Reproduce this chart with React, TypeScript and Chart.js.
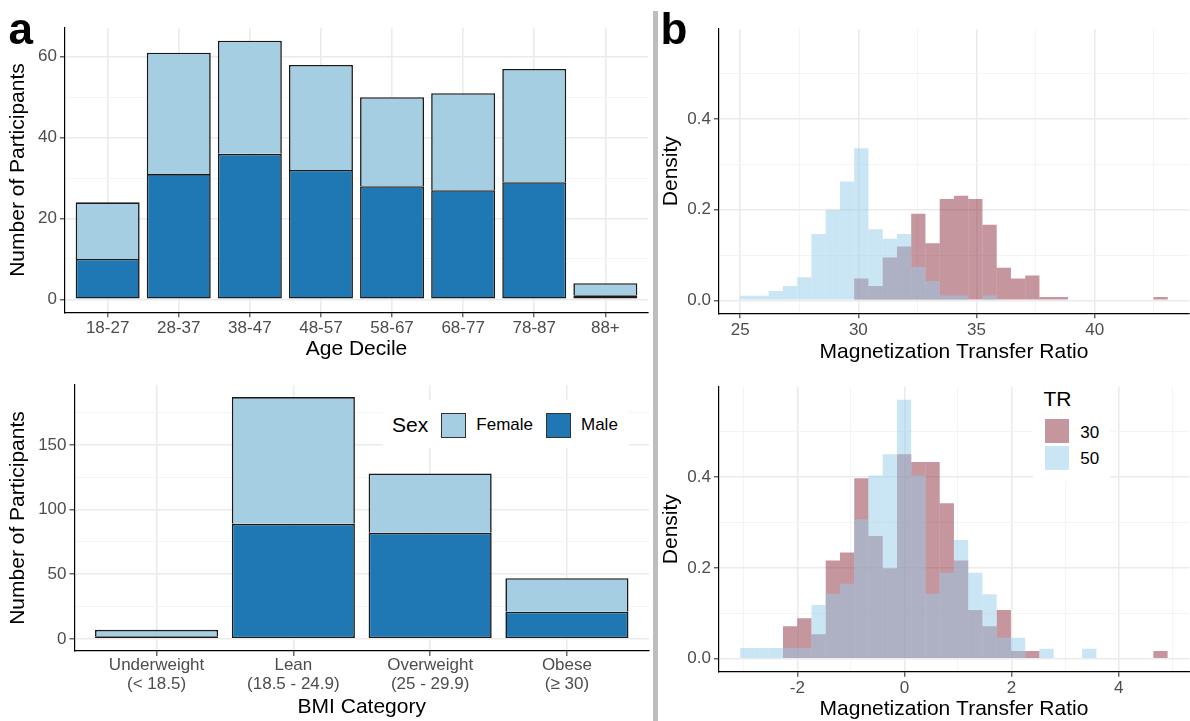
import React, { useEffect, useRef } from 'react';
import { Chart, registerables } from 'chart.js';

Chart.register(...registerables);

// ---------- Panel a (top): Age decile ----------
const AGE_DECILES = ['18-27', '28-37', '38-47', '48-57', '58-67', '68-77', '78-87', '88+'];
const AGE_FEMALE = [14, 30, 28, 26, 22, 24, 28, 3];
const AGE_MALE = [10, 31, 36, 32, 28, 27, 29, 1];
const AGE_Y_TICKS = [0, 20, 40, 60];
const AGE_Y_MINOR = [10, 30, 50];

// ---------- Panel a (bottom): BMI ----------
const BMI_CATEGORIES = [
  ['Underweight', '(< 18.5)'],
  ['Lean', '(18.5 - 24.9)'],
  ['Overweight', '(25 - 29.9)'],
  ['Obese', '(\u2265 30)'],
];
const BMI_FEMALE = [5, 98, 46, 26];
const BMI_MALE = [2, 89, 82, 21];
const BMI_Y_TICKS = [0, 50, 100, 150];
const BMI_Y_MINOR = [25, 75, 125, 175];

// ---------- Panel b (top): raw MTR histogram (density) ----------
const RAW_BIN_START = 25.0;
const RAW_BIN_WIDTH = 0.603;
const RAW_TR30 = [0, 0, 0, 0, 0, 0, 0, 0, 0.048, 0.0315, 0.0945, 0.119, 0.191, 0.126, 0.2235, 0.231, 0.2235, 0.167, 0.072, 0.048, 0.055, 0.0074, 0.0074, 0, 0, 0, 0, 0, 0, 0.0074];
const RAW_TR50 = [0.01, 0.01, 0.0205, 0.0315, 0.051, 0.1465, 0.2, 0.262, 0.3355, 0.157, 0.136, 0.1465, 0.0735, 0.0426, 0.011, 0.011, 0, 0.011, 0, 0, 0, 0, 0, 0, 0, 0, 0, 0, 0, 0];
const RAW_X_TICKS = [25, 30, 35, 40];
const RAW_X_MINOR = [27.5, 32.5, 37.5, 42.5];

// ---------- Panel b (bottom): standardized MTR histogram (density) ----------
const Z_BIN_START = -3.065;
const Z_BIN_WIDTH = 0.266;
const Z_TR30 = [0, 0, 0, 0.0713, 0.089, 0.054, 0.216, 0.234, 0.397, 0.27, 0.199, 0.45, 0.433, 0.433, 0.342, 0.216, 0.107, 0.0713, 0.107, 0.017, 0.017, 0, 0, 0, 0, 0, 0, 0, 0, 0.017];
const Z_TR50 = [0.0235, 0.0235, 0.0235, 0.0235, 0.0235, 0.118, 0.143, 0.165, 0.307, 0.403, 0.45, 0.57, 0.403, 0.143, 0.189, 0.261, 0.189, 0.142, 0.046, 0.046, 0, 0.022, 0, 0, 0.022, 0, 0, 0, 0, 0];
const Z_X_TICKS = [-2, 0, 2, 4];
const Z_X_MINOR = [-3, -1, 1, 3, 5];

const DENSITY_TICKS = [0, 0.2, 0.4];
const DENSITY_MINOR = [0.1, 0.3, 0.5];

const FAMILY = '"Liberation Sans", Arial, sans-serif';
const FEMALE_COLOR = '#A6CEE3';
const MALE_COLOR = '#1F78B4';
const BAR_BORDER = '#1A1A1A';
const TR30_COLOR = 'rgba(139,45,61,0.5)';
const TR50_COLOR = 'rgba(149,205,233,0.5)';

type AxisSpec = {
  min: number;
  max: number;
  major: number[];
  minor: number[];
  fmt: (v: number) => any;
  isX: boolean;
  size: number;
  title: string;
  titlePad: number;
  tickPad: number;
  lineHeight?: number;
  stacked?: boolean;
};

function axis(spec: AxisSpec) {
  const all = [...spec.major, ...spec.minor].sort((a, b) => a - b);
  const isMajor = (v: any) => spec.major.indexOf(v) >= 0;
  return {
    type: 'linear',
    min: spec.min,
    max: spec.max,
    bounds: 'data',
    offset: false,
    stacked: spec.stacked || false,
    afterBuildTicks: (s: any) => {
      s.ticks = all.map((v) => ({ value: v }));
    },
    afterFit: (s: any) => {
      if (spec.isX) s.height = spec.size;
      else s.width = spec.size;
    },
    ticks: {
      autoSkip: false,
      maxRotation: 0,
      minRotation: 0,
      padding: spec.tickPad,
      color: '#4D4D4D',
      font: { family: FAMILY, size: 17, lineHeight: spec.lineHeight || 1.2 },
      callback: (v: any) => (isMajor(v) ? spec.fmt(v) : ''),
    },
    grid: {
      display: true,
      offset: false,
      drawOnChartArea: true,
      drawTicks: true,
      tickLength: 5,
      color: (ctx: any) => (isMajor(ctx.tick && ctx.tick.value) ? '#EBEBEB' : '#F3F3F3'),
      lineWidth: (ctx: any) => (isMajor(ctx.tick && ctx.tick.value) ? 1.6 : 0.9),
      tickColor: (ctx: any) => (isMajor(ctx.tick && ctx.tick.value) ? '#333333' : 'rgba(0,0,0,0)'),
      tickWidth: 1.1,
    },
    border: { display: true, color: '#000000', width: 1.2 },
    title: {
      display: true,
      text: spec.title,
      color: '#000000',
      font: { family: FAMILY, size: 21, lineHeight: 1 },
      padding: spec.isX ? { top: 0, bottom: spec.titlePad } : { top: spec.titlePad, bottom: 0 },
    },
  };
}

function baseOptions(padTop: number, padRight: number, scales: any) {
  return {
    responsive: false,
    maintainAspectRatio: false,
    animation: false,
    devicePixelRatio: 1,
    events: [],
    layout: { padding: { top: padTop, right: padRight, left: 0, bottom: 0 } },
    plugins: { legend: { display: false }, tooltip: { enabled: false }, title: { display: false } },
    scales,
  };
}

function stackedBarConfig(cats: any[], male: number[], female: number[], yMin: number, yMax: number, yMajor: number[], yMinor: number[], o: any) {
  const idx = cats.map((_, i) => i + 1);
  return {
    type: 'bar',
    data: {
      datasets: [
        {
          label: 'Male',
          data: male.map((y, i) => ({ x: idx[i], y })),
          backgroundColor: MALE_COLOR,
          borderColor: BAR_BORDER,
          borderWidth: 1.6,
          borderSkipped: false,
          barPercentage: 0.9,
          categoryPercentage: 1,
          inflateAmount: 0,
        },
        {
          label: 'Female',
          data: female.map((y, i) => ({ x: idx[i], y })),
          backgroundColor: FEMALE_COLOR,
          borderColor: BAR_BORDER,
          borderWidth: 1.6,
          borderSkipped: 'start',
          barPercentage: 0.9,
          categoryPercentage: 1,
          inflateAmount: 0,
        },
      ],
    },
    options: baseOptions(o.padTop, o.padRight, {
      x: axis({
        min: 0.4, max: cats.length + 0.6, major: idx, minor: [], fmt: (v) => cats[v - 1],
        isX: true, size: o.xSize, title: o.xTitle, titlePad: o.xTitlePad, tickPad: o.xTickPad,
        lineHeight: o.xLineHeight, stacked: true,
      }),
      y: axis({
        min: yMin, max: yMax, major: yMajor, minor: yMinor, fmt: (v) => String(v),
        isX: false, size: o.ySize, title: 'Number of Participants', titlePad: o.yTitlePad, tickPad: 3, stacked: true,
      }),
    }),
  };
}

function histConfig(start: number, width: number, tr30: number[], tr50: number[], xMin: number, xMax: number, xMajor: number[], xMinor: number[], o: any) {
  const centers = tr30.map((_, i) => start + width * (i + 0.5));
  return {
    type: 'bar',
    data: {
      datasets: [
        {
          label: '50',
          data: tr50.map((y, i) => ({ x: centers[i], y })),
          backgroundColor: TR50_COLOR,
          borderWidth: 0,
          barPercentage: 1,
          categoryPercentage: 1,
          grouped: false,
          inflateAmount: 0,
          order: 1,
        },
        {
          label: '30',
          data: tr30.map((y, i) => ({ x: centers[i], y })),
          backgroundColor: TR30_COLOR,
          borderWidth: 0,
          barPercentage: 1,
          categoryPercentage: 1,
          grouped: false,
          inflateAmount: 0,
          order: 2,
        },
      ],
    },
    options: baseOptions(o.padTop, o.padRight, {
      x: axis({
        min: xMin, max: xMax, major: xMajor, minor: xMinor, fmt: (v) => String(v),
        isX: true, size: o.xSize, title: 'Magnetization Transfer Ratio', titlePad: o.xTitlePad, tickPad: o.xTickPad,
      }),
      y: axis({
        min: -0.0285, max: 0.5985, major: DENSITY_TICKS, minor: DENSITY_MINOR, fmt: (v) => v.toFixed(1),
        isX: false, size: o.ySize, title: 'Density', titlePad: o.yTitlePad, tickPad: 3,
      }),
    }),
  };
}

function ChartCanvas(props: { left: number; top: number; width: number; height: number; make: () => any }) {
  const ref = useRef<HTMLCanvasElement>(null);
  useEffect(() => {
    const chart = new Chart(ref.current as HTMLCanvasElement, props.make());
    return () => chart.destroy();
  }, []);
  return (
    <canvas
      ref={ref}
      width={props.width}
      height={props.height}
      style={{ position: 'absolute', left: props.left, top: props.top, width: props.width, height: props.height }}
    />
  );
}

const txt = (left: number, top: number, size: number, lh: number, text: string, extra: any = {}) => (
  <div
    style={{
      position: 'absolute', left, top, fontFamily: FAMILY, fontSize: size, lineHeight: lh + 'px',
      whiteSpace: 'nowrap', color: '#000', ...extra,
    }}
  >
    {text}
  </div>
);

const box = (left: number, top: number, w: number, h: number, style: any) => (
  <div style={{ position: 'absolute', left, top, width: w, height: h, boxSizing: 'border-box', ...style }} />
);

export default function App() {
  return (
    <div style={{ position: 'absolute', left: 0, top: 0, width: 1190, height: 721, background: '#fff', overflow: 'hidden' }}>
      <ChartCanvas
        left={0} top={0} width={652} height={365}
        make={() =>
          stackedBarConfig(AGE_DECILES, AGE_MALE, AGE_FEMALE, -3.2, 67.2, AGE_Y_TICKS, AGE_Y_MINOR, {
            padTop: 27.7, padRight: 4, xSize: 52.7, ySize: 65, xTitle: 'Age Decile', xTitlePad: 4.8, xTickPad: 1.3, yTitlePad: 7.5,
          })
        }
      />
      <ChartCanvas
        left={0} top={365} width={652} height={356}
        make={() =>
          stackedBarConfig(BMI_CATEGORIES, BMI_MALE, BMI_FEMALE, -9.35, 196.35, BMI_Y_TICKS, BMI_Y_MINOR, {
            padTop: 20, padRight: 3, xSize: 70, ySize: 74.5, xTitle: 'BMI Category', xTitlePad: 3.5, xTickPad: 0.4, yTitlePad: 7.5, xLineHeight: 1.1,
          })
        }
      />
      <ChartCanvas
        left={660} top={0} width={530} height={365}
        make={() =>
          histConfig(RAW_BIN_START, RAW_BIN_WIDTH, RAW_TR30, RAW_TR50, 24.1, 43.99, RAW_X_TICKS, RAW_X_MINOR, {
            padTop: 29, padRight: 1, xSize: 51.7, ySize: 58.9, xTitlePad: 2.2, xTickPad: 2.2, yTitlePad: 0.5,
          })
        }
      />
      <ChartCanvas
        left={660} top={365} width={530} height={356}
        make={() =>
          histConfig(Z_BIN_START, Z_BIN_WIDTH, Z_TR30, Z_TR50, -3.464, 5.314, Z_X_TICKS, Z_X_MINOR, {
            padTop: 21.7, padRight: 1, xSize: 49.3, ySize: 58.9, xTitlePad: 0.8, xTickPad: 1.4, yTitlePad: 0.5,
          })
        }
      />

      {/* separator */}
      {box(653, 11, 5, 710, { background: '#BDBDBD' })}

      {/* panel letters */}
      {txt(8.4, 6.8, 44, 44, 'a', { fontWeight: 'bold' })}
      {txt(660.5, 6.8, 44, 44, 'b', { fontWeight: 'bold' })}

      {/* Sex legend */}
      {box(383, 400, 246, 48, { background: '#fff' })}
      {txt(392, 413, 21, 24, 'Sex')}
      {box(441, 412.5, 25, 25, { background: FEMALE_COLOR, border: '1.5px solid #333' })}
      {txt(476.3, 415, 17, 20, 'Female')}
      {box(546, 412.5, 25, 25, { background: MALE_COLOR, border: '1.5px solid #333' })}
      {txt(581, 415, 17, 20, 'Male')}

      {/* TR legend */}
      {box(1033, 384, 77, 97, { background: '#fff' })}
      {txt(1043.5, 387.2, 21, 24, 'TR')}
      {box(1045, 419.3, 24.3, 24, { background: TR30_COLOR })}
      {box(1045, 446, 24.3, 24, { background: TR50_COLOR })}
      {txt(1080.3, 422.7, 17, 20, '30')}
      {txt(1080.3, 449, 17, 20, '50')}
    </div>
  );
}
